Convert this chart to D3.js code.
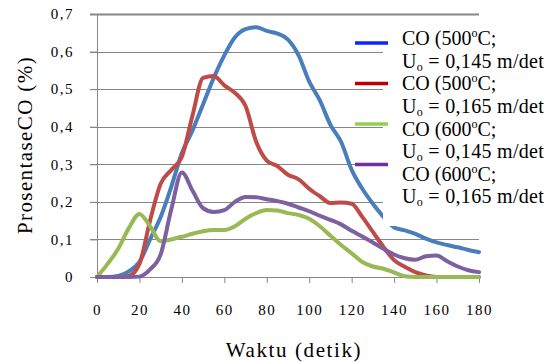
<!DOCTYPE html>
<html>
<head>
<meta charset="utf-8">
<script src="https://cdn.jsdelivr.net/npm/d3@7"></script>
<style>
  body { margin: 0; background: #fff; }
  svg text { font-family: "Liberation Serif", "Times New Roman", serif; }
</style>
</head>
<body>
<div id="chart"></div>
<script>
// time in seconds
const waktu = [0, 5, 10, 15, 20, 25, 30, 35, 40, 45, 50, 55, 60, 65, 70, 75, 80, 85, 90,
  95, 100, 105, 110, 115, 120, 125, 130, 135, 140, 145, 150, 155, 160, 165, 170, 175, 180];

const co500_145 = [0, 0, 0.003, 0.015, 0.04, 0.1, 0.16, 0.24, 0.33, 0.39, 0.46, 0.53, 0.59,
  0.638, 0.66, 0.665, 0.655, 0.648, 0.632, 0.59, 0.52, 0.47, 0.405, 0.36, 0.285, 0.235,
  0.195, 0.16, 0.132, 0.124, 0.115, 0.102, 0.092, 0.085, 0.079, 0.072, 0.066];

const co500_165 = [0, 0, 0, 0.003, 0.035, 0.15, 0.248, 0.285, 0.32, 0.43, 0.53, 0.535, 0.51,
  0.49, 0.455, 0.36, 0.31, 0.295, 0.272, 0.26, 0.235, 0.215, 0.197, 0.198, 0.195, 0.16,
  0.12, 0.08, 0.045, 0.027, 0.013, 0.004, 0, 0, 0, 0, 0];

const co600_145 = [0, 0.035, 0.075, 0.13, 0.168, 0.135, 0.095, 0.1, 0.107, 0.115, 0.122,
  0.125, 0.125, 0.135, 0.155, 0.17, 0.178, 0.177, 0.17, 0.165, 0.155, 0.135, 0.11, 0.085,
  0.063, 0.04, 0.028, 0.022, 0.012, 0.002, 0, 0, 0, 0, 0, 0, 0];

const co600_165 = [0, 0, 0, 0, 0.001, 0.02, 0.06, 0.18, 0.278, 0.23, 0.183, 0.173, 0.178,
  0.2, 0.213, 0.212, 0.207, 0.202, 0.195, 0.185, 0.175, 0.163, 0.152, 0.14, 0.123, 0.108,
  0.092, 0.075, 0.06, 0.05, 0.046, 0.055, 0.057, 0.042, 0.028, 0.018, 0.013];

const seriesSuhu = ["500", "500", "600", "600"];
const seriesUo = ["0,145", "0,165", "0,145", "0,165"];
const lineColors = ["#4a7ebb", "#be4b48", "#98b954", "#7d60a0"];
const legendColors = ["#0b24fb", "#c00000", "#92d050", "#7030a0"];

const xTicks = [0, 20, 40, 60, 80, 100, 120, 140, 160, 180];
const yTicks = [0, 0.1, 0.2, 0.3, 0.4, 0.5, 0.6, 0.7];

const allSeries = [co500_145, co500_165, co600_145, co600_165];

const serif = '"Liberation Serif", "Times New Roman", serif';

const margin = {top: 14, right: 66, bottom: 85, left: 97};
const width = 545 - margin.left - margin.right;
const height = 362 - margin.top - margin.bottom;

const svg = d3.select("#chart").append("svg")
  .attr("width", 545)
  .attr("height", 362);

const g = svg.append("g")
  .attr("transform", `translate(${margin.left},${margin.top})`);

const x = d3.scaleLinear().domain([0, 180]).range([0, width]);
const y = d3.scaleLinear().domain([0, 0.7]).range([height, 0]);

// gridlines
g.append("g")
  .selectAll("line")
  .data(yTicks.filter(d => d > 0))
  .join("line")
    .attr("x1", -7)
    .attr("x2", width)
    .attr("y1", d => Math.round(y(d)) + 0.5)
    .attr("y2", d => Math.round(y(d)) + 0.5)
    .attr("stroke", "#868686")
    .attr("stroke-width", d => d === 0.7 ? 2 : 1);

// y axis
g.append("g")
  .call(d3.axisLeft(y).tickValues(yTicks).tickSize(7).tickPadding(16)
    .tickFormat(d => d === 0 ? "0" : d3.format(".1f")(d).replace(".", ",")))
  .call(g => g.select(".domain").attr("stroke", "#868686"))
  .call(g => g.selectAll(".tick line").attr("stroke", "#868686"))
  .call(g => g.selectAll("text")
    .style("font-family", serif)
    .attr("font-size", 15)
    .attr("letter-spacing", "1.5px")
    .attr("fill", "#000"));

// x axis
g.append("g")
  .attr("transform", `translate(0,${height})`)
  .call(d3.axisBottom(x).tickValues(xTicks).tickSize(6).tickPadding(21).tickSizeOuter(0))
  .call(g => g.select(".domain").attr("stroke", "#868686"))
  .call(g => g.selectAll(".tick line").attr("stroke", "#868686"))
  .call(g => g.selectAll("text")
    .style("font-family", serif)
    .attr("font-size", 15)
    .attr("letter-spacing", "1.5px")
    .attr("fill", "#000"));

// lines
const line = d3.line()
  .x((d, i) => x(waktu[i]))
  .y(d => y(d))
  .curve(d3.curveMonotoneX);

g.append("g")
  .selectAll("path")
  .data(allSeries)
  .join("path")
    .attr("d", d => line(d))
    .attr("fill", "none")
    .attr("stroke", (d, i) => lineColors[i])
    .attr("stroke-width", 4)
    .attr("stroke-linejoin", "round")
    .attr("stroke-linecap", "round");

// legend
const legend = svg.append("g");
legend.append("rect")
  .attr("x", 383)
  .attr("y", 22)
  .attr("width", 162)
  .attr("height", 204)
  .attr("fill", "#fff");

const entry = legend.selectAll("g.entry")
  .data(seriesSuhu)
  .join("g")
    .attr("class", "entry")
    .attr("transform", (d, i) => `translate(0,${i * 45.3})`);

entry.append("line")
  .attr("x1", 355)
  .attr("x2", 388)
  .attr("y1", (d, i) => 43 - i * 4.8)
  .attr("y2", (d, i) => 43 - i * 4.8)
  .attr("stroke", (d, i) => legendColors[i])
  .attr("stroke-width", 3.5);

const t1 = entry.append("text")
  .attr("x", 402)
  .attr("y", 45)
  .style("font-family", serif)
  .attr("font-size", 20)
  .attr("fill", "#000");
t1.append("tspan").text(d => `CO (${d}`);
t1.append("tspan").attr("font-size", 12).attr("dy", -8).text("o");
t1.append("tspan").attr("dy", 8).text("C;");

const t2 = entry.append("text")
  .attr("x", 402)
  .attr("y", 67.5)
  .style("font-family", serif)
  .attr("font-size", 20)
  .attr("letter-spacing", "0.3px")
  .attr("fill", "#000");
t2.append("tspan").text("U");
t2.append("tspan").attr("font-size", 12).attr("dy", 3).text("o");
t2.append("tspan").attr("dy", -3).text((d, i) => ` = ${seriesUo[i]} m/det`);

// axis titles
svg.append("text")
  .attr("transform", "translate(32,145) rotate(-90)")
  .attr("text-anchor", "middle")
  .style("font-family", serif)
  .attr("font-size", 21)
  .attr("letter-spacing", "1.4px")
  .attr("fill", "#000")
  .text("ProsentaseCO (%)");

svg.append("text")
  .attr("x", 294)
  .attr("y", 357)
  .attr("text-anchor", "middle")
  .style("font-family", serif)
  .attr("font-size", 21)
  .attr("letter-spacing", "1.6px")
  .attr("fill", "#000")
  .text("Waktu (detik)");
</script>
</body>
</html>
